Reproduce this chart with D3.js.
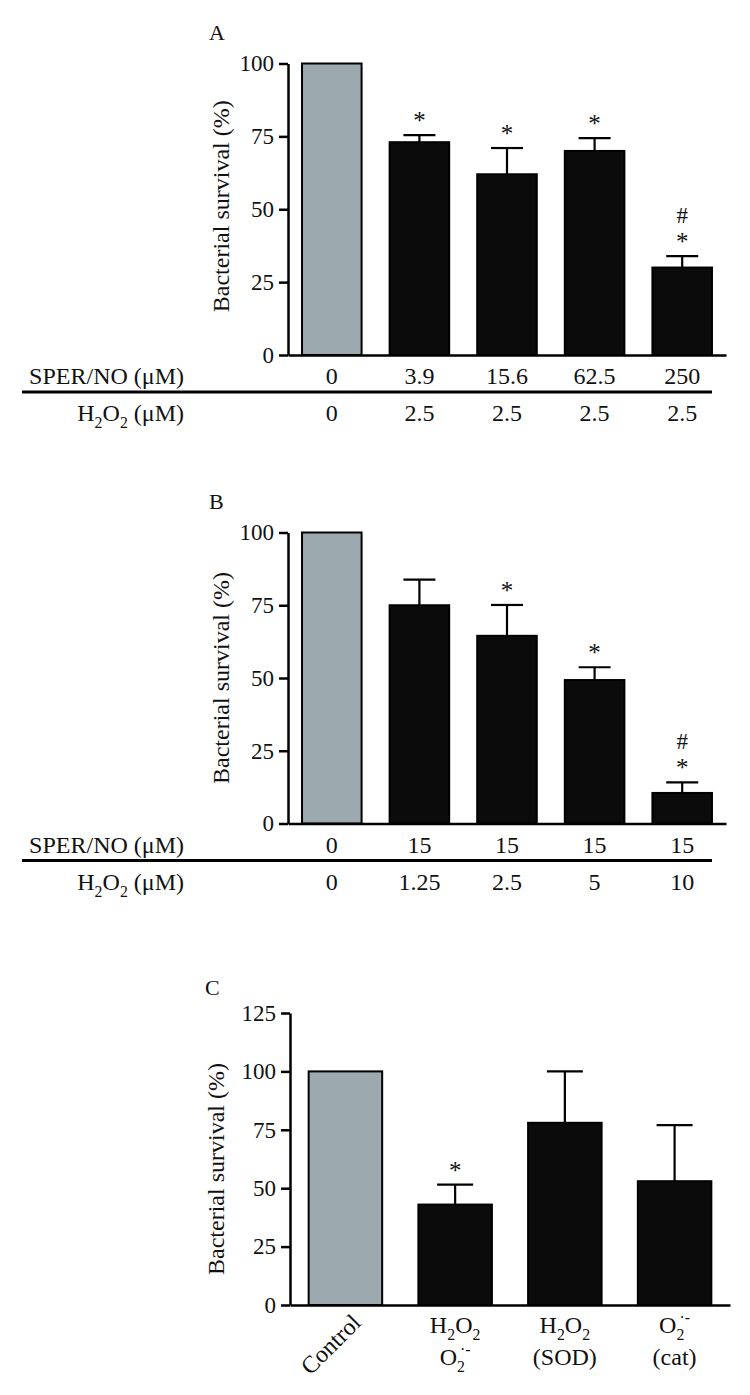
<!DOCTYPE html>
<html><head><meta charset="utf-8">
<script src="https://cdn.jsdelivr.net/npm/d3@7"></script>
<style>
body{margin:0;background:#fff}
svg{display:block}
text{font-family:"Liberation Serif","Times New Roman",serif;fill:#111}
</style>
</head><body>
<svg id="c" width="750" height="1395"></svg>
<script>
// ---------- DATA ----------
const ticksAB = [0, 25, 50, 75, 100];
const ticksC = [0, 25, 50, 75, 100, 125];

const sperA = ["0", "3.9", "15.6", "62.5", "250"];
const h2o2A = ["0", "2.5", "2.5", "2.5", "2.5"];
const valuesA = [100, 73, 62, 70, 30];
const errorsA = [0, 2.4, 9, 4.4, 3.9];
const sigA = ["", "*", "*", "*", "*#"];

const sperB = ["0", "15", "15", "15", "15"];
const h2o2B = ["0", "1.25", "2.5", "5", "10"];
const valuesB = [100, 75, 64.5, 49.3, 10.5];
const errorsB = [0, 8.8, 10.6, 4.4, 3.6];
const sigB = ["", "", "*", "*", "*#"];

const catsC = [["Control"], ["H_2O_2", "O_2^{·-}"], ["H_2O_2", "(SOD)"], ["O_2^{·-}", "(cat)"]];
const valuesC = [100, 43, 78, 53];
const errorsC = [0, 8.5, 22, 24];
const sigC = ["", "*", "", ""];

const rowLabels = ["SPER/NO (μM)", "H_2O_2 (μM)"];
const yTitle = "Bacterial survival (%)";

// ---------- HELPERS ----------
const svg = d3.select("#c");
const GRAY = "#9caab0", BLACK = "#0a0b0a";

// parse "H_2O_2 (μM)" / "O_2^{·-}" into segments
function parseRich(str){
  const segs = [];
  let i = 0, buf = "";
  while(i < str.length){
    const ch = str[i];
    if(ch === "_"){ if(buf){segs.push({t:buf});buf="";} segs.push({t:str[i+1], s:"sub"}); i += 2; }
    else if(ch === "^"){
      if(buf){segs.push({t:buf});buf="";}
      const end = str.indexOf("}", i);
      segs.push({t:str.slice(i+2, end), s:"sup"}); i = end + 1;
    } else { buf += ch; i++; }
  }
  if(buf) segs.push({t:buf});
  return segs;
}
function rich(textSel, str, size){
  const segs = parseRich(str);
  let shift = 0;
  segs.forEach((seg, k) => {
    const ts = textSel.append("tspan").text(seg.t);
    const target = seg.s === "sub" ? size*0.3 : seg.s === "sup" ? -size*0.4 : 0;
    ts.attr("dy", target - shift);
    shift = target;
    if(seg.s) ts.attr("font-size", size*0.66);
    if(seg.s === "sup" && k > 0 && segs[k-1].s === "sub") ts.attr("dx", -size*0.2);
  });
}

function panel(o){
  const n = o.values.length;
  const x = d3.scaleBand().domain(d3.range(n)).range([o.x0, o.x1])
    .paddingInner(o.pi).paddingOuter(o.po);
  const y = d3.scaleLinear().domain([0, o.ymax]).range([o.yb, o.yt]);
  const g = svg.append("g");

  // bars
  g.selectAll("rect.bar").data(o.values).join("rect").attr("class","bar")
    .attr("x", (d,i) => x(i)).attr("y", d => y(d))
    .attr("width", x.bandwidth()).attr("height", d => y(0) - y(d))
    .attr("fill", (d,i) => i === 0 ? GRAY : BLACK)
    .attr("stroke", "#000").attr("stroke-width", 2);

  // error bars
  const eb = o.values.map((v,i) => ({i, v, e:o.errors[i]})).filter(d => d.e > 0);
  const cx = i => x(i) + x.bandwidth()/2;
  g.selectAll("line.ev").data(eb).join("line")
    .attr("x1", d => cx(d.i)).attr("x2", d => cx(d.i))
    .attr("y1", d => y(d.v)).attr("y2", d => y(d.v + d.e))
    .attr("stroke", "#000").attr("stroke-width", 2.2);
  g.selectAll("line.ec").data(eb).join("line")
    .attr("x1", d => cx(d.i) - o.cap/2).attr("x2", d => cx(d.i) + o.cap/2)
    .attr("y1", d => y(d.v + d.e)).attr("y2", d => y(d.v + d.e))
    .attr("stroke", "#000").attr("stroke-width", 2.2);

  // significance marks
  o.sig.forEach((s, i) => {
    if(!s) return;
    const top = y(o.values[i] + o.errors[i]);
    if(s.includes("*")) g.append("text").attr("x", cx(i)).attr("y", top - 6)
      .attr("text-anchor","middle").attr("font-size", 25).text("*");
    if(s.includes("#")) g.append("text").attr("x", cx(i)).attr("y", top - 33)
      .attr("text-anchor","middle").attr("font-size", 23).text("#");
  });

  // y axis
  const ya = g.append("g").attr("transform", `translate(${o.x0},0)`)
    .call(d3.axisLeft(y).tickValues(o.ticks).tickSize(9).tickSizeOuter(0).tickPadding(5));
  ya.select(".domain").attr("stroke-width", 2.5);
  ya.selectAll(".tick line").attr("stroke-width", 2.5);
  ya.selectAll(".tick text").attr("font-size", 23).attr("fill", "#111");
  ya.attr("font-family", null);

  // x axis line
  const xa = g.append("g").attr("transform", `translate(0,${y(0)})`)
    .call(d3.axisBottom(x).tickSize(0).tickSizeOuter(0).tickFormat(""));
  xa.select(".domain").attr("stroke-width", 2.5);

  // y title
  g.append("text")
    .attr("transform", `translate(${o.titleX},${(o.yb + o.yt)/2 + o.titleDy}) rotate(-90)`)
    .attr("text-anchor","middle").attr("dy","0.35em").attr("font-size", 24).text(yTitle);

  // panel letter
  g.append("text").attr("x", o.letterX).attr("y", o.letterY).attr("font-size", 22).text(o.letter);

  return {x, y, g, cx};
}

function conditionRows(p, o){
  const y0 = p.y(0);
  const r1 = p.g.append("text").attr("x", 184).attr("y", y0 + 29)
    .attr("text-anchor","end").attr("font-size", 24);
  rich(r1, rowLabels[0], 24);
  p.g.append("line").attr("x1", 22).attr("x2", 712).attr("y1", y0 + 37).attr("y2", y0 + 37)
    .attr("stroke", "#000").attr("stroke-width", 3);
  const r2 = p.g.append("text").attr("x", 184).attr("y", y0 + 66)
    .attr("text-anchor","end").attr("font-size", 24);
  rich(r2, rowLabels[1], 24);
  p.g.selectAll("text.v1").data(o.row1).join("text").attr("class","v1")
    .attr("x", (d,i) => p.cx(i)).attr("y", y0 + 29).attr("text-anchor","middle")
    .attr("font-size", 24).text(d => d);
  p.g.selectAll("text.v2").data(o.row2).join("text").attr("class","v2")
    .attr("x", (d,i) => p.cx(i)).attr("y", y0 + 66).attr("text-anchor","middle")
    .attr("font-size", 24).text(d => d);
}

// ---------- PANEL A ----------
const pA = panel({values:valuesA, errors:errorsA, sig:sigA, ticks:ticksAB, ymax:100,
  x0:288, x1:726, pi:0.32, po:0.16, yb:355, yt:63.5, cap:32,
  titleX:221, titleDy:-3, letter:"A", letterX:209, letterY:40});
conditionRows(pA, {row1:sperA, row2:h2o2A});

// ---------- PANEL B ----------
const pB = panel({values:valuesB, errors:errorsB, sig:sigB, ticks:ticksAB, ymax:100,
  x0:288, x1:726, pi:0.32, po:0.16, yb:823.5, yt:532.5, cap:32,
  titleX:221, titleDy:0, letter:"B", letterX:209, letterY:509});
conditionRows(pB, {row1:sperB, row2:h2o2B});

// ---------- PANEL C ----------
const pC = panel({values:valuesC, errors:errorsC, sig:sigC, ticks:ticksC, ymax:125,
  x0:290, x1:730, pi:0.33, po:0.17, yb:1305, yt:1013, cap:36,
  titleX:216, titleDy:10, letter:"C", letterX:205, letterY:995});

catsC.forEach((lines, i) => {
  const cx = pC.cx(i);
  if(lines.length === 1){
    pC.g.append("text").attr("transform", `translate(${cx - 9},1350) rotate(-45)`)
      .attr("text-anchor","middle").attr("font-size", 24).text(lines[0]);
  } else {
    lines.forEach((ln, k) => {
      const t = pC.g.append("text").attr("x", cx).attr("y", 1333 + k*32)
        .attr("text-anchor","middle").attr("font-size", 24);
      rich(t, ln, 24);
    });
  }
});
</script>
</body></html>
